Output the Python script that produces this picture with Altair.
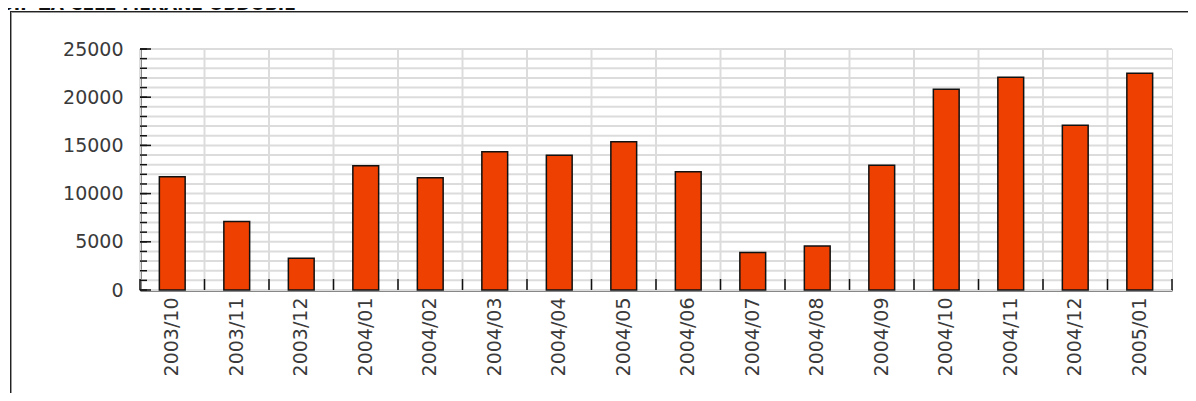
import altair as alt
import pandas as pd

months = ["2003/10", "2003/11", "2003/12", "2004/01", "2004/02", "2004/03",
          "2004/04", "2004/05", "2004/06", "2004/07", "2004/08", "2004/09",
          "2004/10", "2004/11", "2004/12", "2005/01"]
values = [11750, 7100, 3300, 12900, 11650, 14350, 13970, 15380,
          12270, 3900, 4560, 12930, 20820, 22060, 17080, 22480]
major_ticks = [0, 5000, 10000, 15000, 20000, 25000]
minor_ticks = list(range(0, 25001, 1000))
title_text = "ÚIP ZA CELÉ MERANÉ OBDOBIE"

W, H = 1032, 241
PAD_L, PAD_T = 132, 41

df = pd.DataFrame({"month": months, "value": values})
grid_df = pd.DataFrame({"v": minor_ticks})
major_df = pd.DataFrame({"v": major_ticks})

FONT = "DejaVu Sans"
LABEL_SIZE = 19
LABEL_COLOR = "#3a3a3a"
xscale = alt.Scale(domain=months, paddingInner=0, paddingOuter=0)
yscale = alt.Scale(domain=[0, 25000], nice=False, zero=True)

xaxis = alt.Axis(labelAngle=270, labelFont=FONT, labelFontSize=LABEL_SIZE,
                 labelColor=LABEL_COLOR, labelPadding=7, ticks=False, tickSize=0,
                 grid=False, domainColor="#111111", domainWidth=2, title=None)
yaxis = alt.Axis(values=major_ticks, format="d", labelFont=FONT, labelFontSize=LABEL_SIZE,
                 labelColor=LABEL_COLOR, labelPadding=17, ticks=False, tickSize=0,
                 grid=False, domainColor="#111111", domainWidth=2, title=None)


def X(band=0.5):
    return alt.X("month:N", scale=xscale, sort=months, bandPosition=band,
                 axis=xaxis, title=None)


def Y(field):
    return alt.Y(field, scale=yscale, axis=yaxis, title=None)


hgrid = alt.Chart(grid_df).mark_rule(color="#dcdcdc", strokeWidth=2).encode(
    y=Y("v:Q"), x=alt.value(0), x2=alt.value(W),
)

vgrid = alt.Chart(df).mark_rule(color="#dcdcdc", strokeWidth=2).encode(
    x=X(0), y=alt.value(0), y2=alt.value(H),
)

bars = alt.Chart(df).mark_bar(
    width=alt.RelativeBandSize(0.4), color="#ee4000", stroke="#111111", strokeWidth=1.5
).encode(x=X(), y=Y("value:Q"))

yt_major = alt.Chart(major_df).mark_rule(color="#111111", strokeWidth=1.5).encode(
    y=Y("v:Q"), x=alt.value(0), x2=alt.value(11),
)
yt_minor = alt.Chart(grid_df).mark_rule(color="#111111", strokeWidth=1.5).encode(
    y=Y("v:Q"), x=alt.value(0), x2=alt.value(7),
)
xt = alt.Chart(df).mark_rule(color="#111111", strokeWidth=1.5).encode(
    x=X(0), y=alt.value(H - 11), y2=alt.value(H),
)
xt_end = alt.Chart(df).transform_filter(
    alt.datum.month == months[-1]
).mark_rule(color="#111111", strokeWidth=1.5).encode(
    x=X(1), y=alt.value(H - 11), y2=alt.value(H),
)

fx, fy = 2 - PAD_L, 3 - PAD_T
frame_left_d = alt.Chart(df).mark_rule(color="#222222", strokeWidth=1).encode(
    x=alt.value(fx + 0.5), y=alt.value(fy), y2=alt.value(H + 200))
frame_left_g = alt.Chart(df).mark_rule(color="#9a9a9a", strokeWidth=1).encode(
    x=alt.value(fx + 1.5), y=alt.value(fy + 1), y2=alt.value(H + 200))
frame_top_d = alt.Chart(df).mark_rule(color="#222222", strokeWidth=1).encode(
    y=alt.value(fy + 0.5), x=alt.value(fx), x2=alt.value(W + 100))
frame_top_g = alt.Chart(df).mark_rule(color="#9a9a9a", strokeWidth=1).encode(
    y=alt.value(fy + 1.5), x=alt.value(fx + 1), x2=alt.value(W + 100))

title = alt.Chart(pd.DataFrame({"t": [title_text]})).mark_text(
    font=FONT, fontSize=17, fontWeight="bold", color="#111111",
    align="left", baseline="alphabetic"
).encode(text="t:N", x=alt.value(-PAD_L - 8), y=alt.value(1.5 - PAD_T))

chart = alt.layer(
    hgrid, vgrid, bars, yt_major, yt_minor, xt, xt_end,
    frame_left_d, frame_left_g, frame_top_d, frame_top_g, title
).properties(
    width=W, height=H,
    autosize=alt.AutoSizeParams(type="none"),
    padding={"left": PAD_L, "top": PAD_T, "right": 16, "bottom": 103},
).configure_view(stroke="#dcdcdc", strokeWidth=2).configure(background="white")

chart.save("out.html", embed_options={"renderer": "svg", "actions": False})
